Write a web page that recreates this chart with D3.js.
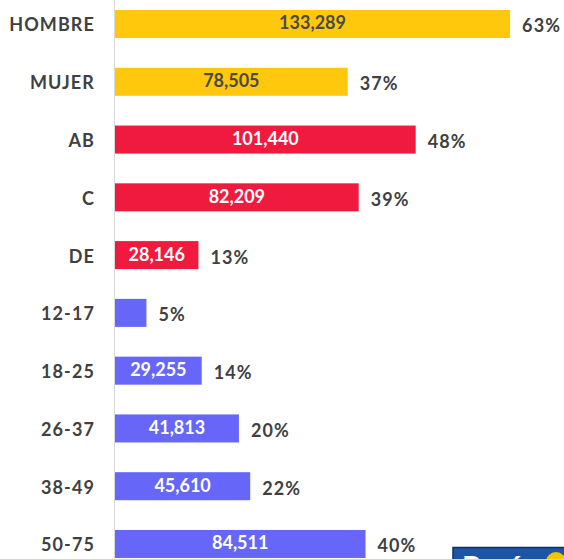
<!DOCTYPE html>
<html>
<head>
<meta charset="utf-8">
<script src="https://cdn.jsdelivr.net/npm/d3@7"></script>
<style>
  html, body { margin: 0; padding: 0; background: #fff; }
  svg { display: block; }
  text { font-family: Lato, "Open Sans", sans-serif; font-weight: 700; }
</style>
</head>
<body>
<svg id="chart" width="564" height="559"></svg>
<script>
// Audience profile: sex, socioeconomic level and age group
const categories = ["HOMBRE", "MUJER", "AB", "C", "DE", "12-17", "18-25", "26-37", "38-49", "50-75"];
const groups     = ["sexo", "sexo", "nse", "nse", "nse", "edad", "edad", "edad", "edad", "edad"];
const values     = [133289, 78505, 101440, 82209, 28146, 10605, 29255, 41813, 45610, 84511];
const valueLabels = ["133,289", "78,505", "101,440", "82,209", "28,146", "", "29,255", "41,813", "45,610", "84,511"];
const pctLabels  = ["63%", "37%", "48%", "39%", "13%", "5%", "14%", "20%", "22%", "40%"];

const groupColor = { sexo: "#FFC80C", nse: "#F01A3E", edad: "#6666F8" };
const innerText  = { sexo: "#4a4a4a", nse: "#ffffff", edad: "#ffffff" };

const rows = categories.map((c, i) => ({
  cat: c, group: groups[i], value: values[i], label: valueLabels[i], pct: pctLabels[i]
}));

const svg = d3.select("#chart");

const x = d3.scaleLinear().domain([0, 140000]).range([115, 530]);
const y = d3.scaleBand().domain(categories).range([10, 558]).paddingInner(0.515).paddingOuter(0);

// vertical baseline
svg.append("line")
  .attr("x1", 114.5).attr("x2", 114.5)
  .attr("y1", 0).attr("y2", 559)
  .attr("stroke", "#d9d9d9").attr("stroke-width", 1);

// category labels
svg.append("g").selectAll("text")
  .data(rows).join("text")
  .attr("x", 95)
  .attr("y", d => y(d.cat) + y.bandwidth() / 2 + 1)
  .attr("dy", "0.36em")
  .attr("text-anchor", "end")
  .attr("font-size", 18)
  .attr("letter-spacing", 1.1)
  .attr("fill", "#404040")
  .text(d => d.cat);

// bars
svg.append("g").selectAll("rect")
  .data(rows).join("rect")
  .attr("x", x(0))
  .attr("y", d => y(d.cat))
  .attr("width", d => x(d.value) - x(0))
  .attr("height", y.bandwidth())
  .attr("fill", d => groupColor[d.group]);

// values inside the bars
svg.append("g").selectAll("text")
  .data(rows.filter(d => d.label)).join("text")
  .attr("x", d => (x(0) + x(d.value)) / 2)
  .attr("y", d => y(d.cat) + y.bandwidth() / 2 - 1)
  .attr("dy", "0.36em")
  .attr("text-anchor", "middle")
  .attr("font-size", 18)
  .attr("fill", d => innerText[d.group])
  .text(d => d.label);

// percentages after the bars
svg.append("g").selectAll("text")
  .data(rows).join("text")
  .attr("x", d => x(d.value) + 12)
  .attr("y", d => y(d.cat) + y.bandwidth() / 2 + 2)
  .attr("dy", "0.36em")
  .attr("text-anchor", "start")
  .attr("font-size", 18)
  .attr("letter-spacing", 1.1)
  .attr("fill", "#404040")
  .text(d => d.pct);

// publisher badge, bottom right
const badge = svg.append("g");
badge.append("rect")
  .attr("x", 453).attr("y", 547.5).attr("width", 120).attr("height", 30)
  .attr("fill", "#1d55a6").attr("stroke", "#0d2f66").attr("stroke-width", 1.5);
badge.append("text")
  .attr("x", 462).attr("y", 578)
  .attr("font-size", 30).attr("fill", "#ffffff")
  .attr("font-family", "DejaVu Serif, serif")
  .text("Perú");
badge.append("circle")
  .attr("cx", 556).attr("cy", 562).attr("r", 10)
  .attr("fill", "#f5c400");
</script>
</body>
</html>
